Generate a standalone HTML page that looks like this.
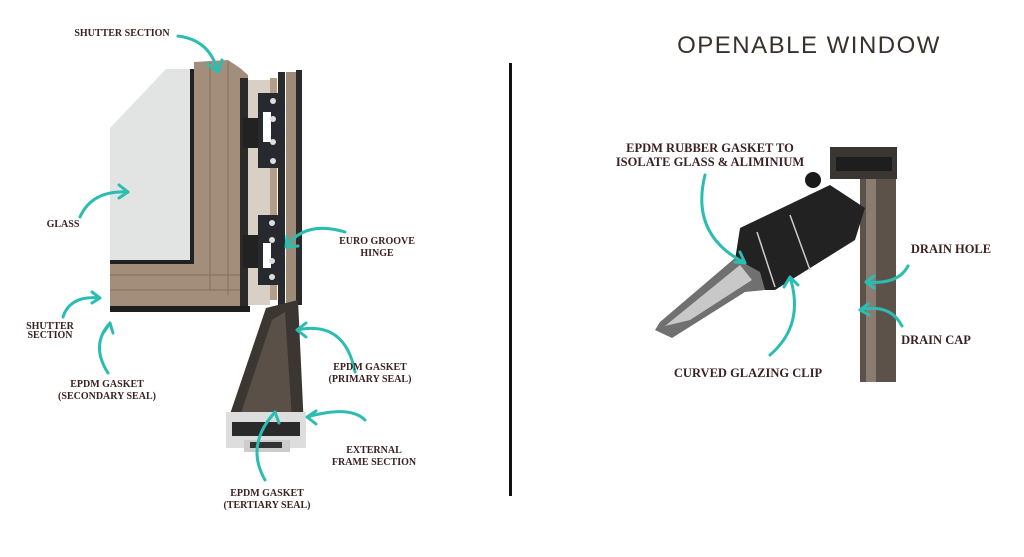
<!DOCTYPE html>
<html><head><meta charset="utf-8"><style>
html,body{margin:0;padding:0;background:#fff;}
svg{display:block}
.l{font-family:"Liberation Serif",serif;font-weight:bold;fill:#3b2222;font-size:10px;text-anchor:middle}
.r{font-family:"Liberation Serif",serif;font-weight:bold;fill:#3b2222;font-size:12.5px;text-anchor:middle}
.a{fill:none;stroke:#2bbdb2;stroke-width:3;stroke-linecap:round;stroke-linejoin:round}
</style></head><body>
<svg width="1024" height="557" viewBox="0 0 1024 557" xmlns="http://www.w3.org/2000/svg">
<rect width="1024" height="557" fill="#fff"/>
<!-- LEFT: frame -->
<polygon points="110,128 166,69 193,69 193,262 110,262" fill="#e2e4e4"/>
<rect x="190" y="69" width="4" height="196" fill="#222"/>
<rect x="110" y="260" width="84" height="4" fill="#222"/>
<path d="M194,62 L228,60 L240,68 L248,75 L248,306 L110,306 L110,264 L194,264 Z" fill="#a28e7b"/>
<path d="M110,275 L240,275 M110,290 L244,290 M210,62 L210,290 M228,62 L228,295" stroke="#8c7866" stroke-width="1.5" fill="none"/>
<rect x="110" y="306" width="140" height="6" fill="#1e1e1e"/>
<rect x="240" y="78" width="8" height="228" fill="#2a2a2a"/>
<rect x="248" y="80" width="22" height="225" fill="#d8d0c4"/>
<rect x="270" y="78" width="7" height="222" fill="#b49e88"/>
<rect x="278" y="72" width="7" height="240" fill="#2a2a2a"/>
<rect x="286" y="72" width="12" height="240" fill="#9e8a76"/>
<rect x="296" y="70" width="6" height="235" fill="#2a2a2a"/>
<!-- hinge plates -->
<rect x="243" y="118" width="15" height="30" fill="#222"/>
<rect x="258" y="93" width="27" height="75" fill="#262a2e"/>
<rect x="263" y="112" width="8" height="30" fill="#fff"/>
<rect x="243" y="235" width="15" height="33" fill="#222"/>
<rect x="258" y="215" width="27" height="70" fill="#262a2e"/>
<rect x="263" y="243" width="8" height="25" fill="#fff"/>
<g fill="#ddd"><circle cx="273" cy="101" r="3"/><circle cx="273" cy="119" r="3"/><circle cx="273" cy="142" r="3"/><circle cx="273" cy="161" r="3"/><circle cx="272" cy="223" r="3"/><circle cx="272" cy="240" r="3"/><circle cx="272" cy="261" r="3"/><circle cx="272" cy="277" r="3"/></g>
<!-- lower profile -->
<polygon points="266,308 298,300 304,428 228,420" fill="#3b3632"/>
<polygon points="272,320 285,312 292,420 240,416" fill="#5a5048"/>
<rect x="226" y="412" width="80" height="36" fill="#ddd"/>
<rect x="232" y="422" width="68" height="14" fill="#2a2a2a"/>
<rect x="244" y="440" width="46" height="12" fill="#ccc"/>
<rect x="250" y="442" width="32" height="6" fill="#333"/>
<!-- left arrows -->
<path class="a" d="M178,36 Q210,40 218,72 M208,64 L218,72 L222,60"/>
<path class="a" d="M80,217 Q92,190 128,192 M119,185 L128,192 L119,198"/>
<path class="a" d="M345,232 Q305,220 286,247 M287,236 L286,247 L298,246"/>
<path class="a" d="M63,317 Q70,295 100,298 M92,292 L100,298 L92,303"/>
<path class="a" d="M108,373 Q90,345 110,323 M104,332 L110,323 L113,333"/>
<path class="a" d="M355,372 Q345,320 297,330 M306,323 L297,330 L306,337"/>
<path class="a" d="M365,420 Q350,405 307,417 M316,411 L307,417 L316,424"/>
<path class="a" d="M265,480 Q245,445 275,412 M268,421 L275,412 L279,423"/>
<text class="l" x="122" y="36">SHUTTER SECTION</text>
<text class="l" x="63" y="227">GLASS</text>
<text class="l" x="377" y="244">EURO GROOVE</text>
<text class="l" x="377" y="256">HINGE</text>
<text class="l" x="50" y="329">SHUTTER</text>
<text class="l" x="50" y="338">SECTION</text>
<text class="l" x="107" y="387">EPDM GASKET</text>
<text class="l" x="107" y="399">(SECONDARY SEAL)</text>
<text class="l" x="370" y="370">EPDM GASKET</text>
<text class="l" x="370" y="382">(PRIMARY SEAL)</text>
<text class="l" x="374" y="453">EXTERNAL</text>
<text class="l" x="374" y="465">FRAME SECTION</text>
<text class="l" x="267" y="496">EPDM GASKET</text>
<text class="l" x="267" y="508">(TERTIARY SEAL)</text>
<!-- divider -->
<rect x="509" y="63" width="3" height="433" fill="#111"/>
<!-- RIGHT -->
<text x="809" y="53" text-anchor="middle" style="font-family:'Liberation Sans',sans-serif;font-size:24px;letter-spacing:1.5px;fill:#3a302c">OPENABLE WINDOW</text>
<!-- post -->
<rect x="860" y="175" width="36" height="207" fill="#5d524a"/>
<rect x="866" y="175" width="10" height="207" fill="#8a7c70"/>
<rect x="830" y="147" width="67" height="32" fill="#3a3632"/>
<rect x="836" y="157" width="56" height="14" fill="#1e1e1e"/>
<!-- sash -->
<polygon points="740,228 830,185 865,208 855,240 775,290 745,290 735,260" fill="#222"/>
<circle cx="813" cy="180" r="8" fill="#1a1a1a"/>
<polygon points="655,330 660,322 735,258 760,272 765,290 745,292 672,338" fill="#707070"/>
<polygon points="665,326 740,265 752,280 690,320" fill="#c8c8c8"/>
<path d="M757,232 L775,287 M790,215 L810,270" stroke="#ccc" stroke-width="1.5"/>
<!-- right arrows -->
<path class="a" d="M705,175 Q690,235 745,263 M735,262 L745,263 L740,252"/>
<path class="a" d="M770,355 Q805,325 790,277 M784,287 L790,277 L798,285"/>
<path class="a" d="M908,266 Q898,285 866,282 M874,276 L866,282 L874,288"/>
<path class="a" d="M902,326 Q890,303 860,310 M868,304 L860,310 L869,315"/>
<text class="r" x="710" y="152">EPDM RUBBER GASKET TO</text>
<text class="r" x="710" y="166">ISOLATE GLASS &amp; ALIMINIUM</text>
<text class="r" x="951" y="253">DRAIN HOLE</text>
<text class="r" x="936" y="344">DRAIN CAP</text>
<text class="r" x="748" y="377">CURVED GLAZING CLIP</text>
</svg>
</body></html>
